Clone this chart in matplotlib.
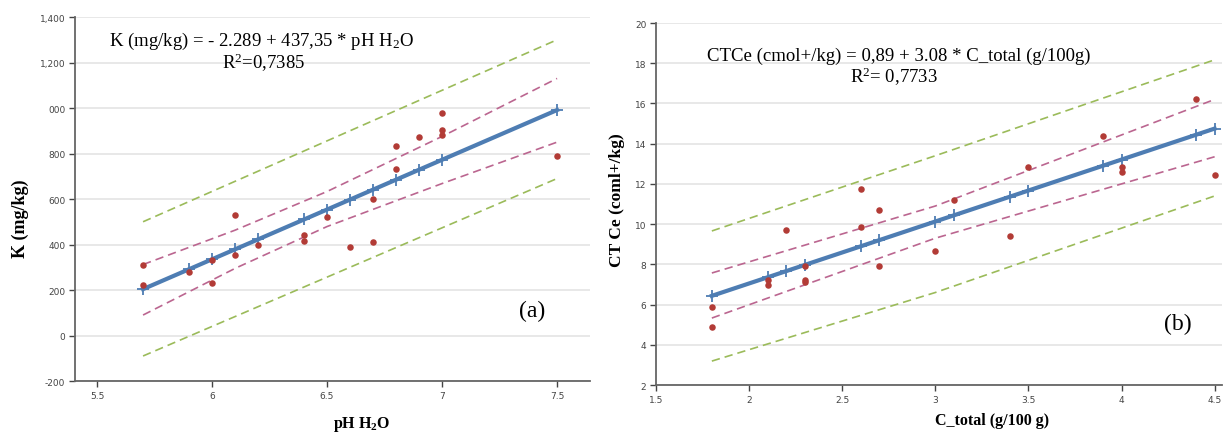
import numpy as np
import matplotlib.pyplot as plt

plt.rcParams['mathtext.fontset'] = 'custom'
plt.rcParams['mathtext.rm'] = 'Liberation Serif'
plt.rcParams['mathtext.bf'] = 'Liberation Serif:bold'
plt.rcParams['mathtext.default'] = 'regular'

# Panel (a): K vs pH H2O
ph = [5.7, 5.7, 5.9, 6.0, 6.0, 6.1, 6.1, 6.2, 6.4, 6.4, 6.5, 6.6, 6.7, 6.7,
      6.8, 6.8, 6.9, 7.0, 7.0, 7.0, 7.5]
k_obs = [310, 220, 278, 330, 230, 530, 355, 400, 440, 415, 520, 387, 602, 413,
         730, 835, 873, 980, 905, 880, 787]
a_intercept, a_slope = -2289, 437.35
a_fit_x = [5.7, 5.9, 6.0, 6.1, 6.2, 6.4, 6.5, 6.6, 6.7, 6.8, 6.9, 7.0, 7.5]
a_band_x = [5.7, 6.1, 6.5, 7.0, 7.5]
a_conf_hi = [312, 463, 633, 875, 1130]
a_conf_lo = [90, 295, 479, 668, 850]
a_pred_x = [5.7, 7.5]
a_pred_hi = [500, 1300]
a_pred_lo = [-90, 690]

# Panel (b): CTCe vs C_total
ct = [1.8, 1.8, 2.1, 2.1, 2.2, 2.3, 2.3, 2.3, 2.6, 2.6, 2.7, 2.7, 3.0, 3.1,
      3.4, 3.5, 3.9, 4.0, 4.0, 4.4, 4.5]
ctce_obs = [5.88, 4.89, 6.98, 7.2, 9.7, 7.92, 7.22, 7.1, 9.86, 11.75, 10.7, 7.92,
            8.67, 11.2, 9.4, 12.85, 14.4, 12.85, 12.6, 16.2, 12.45]
b_intercept, b_slope = 0.89, 3.08
b_fit_x = [1.8, 2.1, 2.2, 2.3, 2.6, 2.7, 3.0, 3.1, 3.4, 3.5, 3.9, 4.0, 4.4, 4.5]
b_band_x = [1.8, 3.0, 4.5]
b_conf_hi = [7.57, 10.9, 16.2]
b_conf_lo = [5.33, 9.3, 13.35]
b_pred_x = [1.8, 3.0, 4.5]
b_pred_hi = [9.66, 13.4, 18.17]
b_pred_lo = [3.19, 6.6, 11.4]

a_yticks = [-200, 0, 200, 400, 600, 800, 1000, 1200, 1400]
a_ylabels = ['-200', '0', '200', '400', '600', '800', '000', '1,200', '1,400']
a_xticks = [5.5, 6, 6.5, 7, 7.5]
b_yticks = [2, 4, 6, 8, 10, 12, 14, 16, 18, 20]
b_xticks = [1.5, 2, 2.5, 3, 3.5, 4, 4.5]

BLUE = '#4e7db3'
RED = '#b23b36'
PINK = '#bb6690'
GREEN = '#9bbb5a'
SERIF = 'Liberation Serif'


def style_axes(ax):
    for s in ['top', 'right']:
        ax.spines[s].set_visible(False)
    for s in ['left', 'bottom']:
        ax.spines[s].set_color('#666666')
        ax.spines[s].set_linewidth(1.3)
    ax.grid(axis='y', color='#e4e4e4', linewidth=1.2)
    ax.set_axisbelow(True)
    ax.tick_params(colors='#444444', labelsize=6.5, length=4, width=1,
                   direction='out', pad=3)


def draw_panel(ax, x, y, b0, b1, fit_x, band_x, c_hi, c_lo, pred_x, p_hi, p_lo):
    ax.plot(pred_x, p_hi, ls=(0, (5, 3)), color=GREEN, lw=1.2)
    ax.plot(pred_x, p_lo, ls=(0, (5, 3)), color=GREEN, lw=1.2)
    ax.plot(band_x, c_hi, ls=(0, (5, 3)), color=PINK, lw=1.2)
    ax.plot(band_x, c_lo, ls=(0, (5, 3)), color=PINK, lw=1.2)
    fx = np.array(fit_x)
    ax.plot(fx, b0 + b1 * fx, color=BLUE, lw=3, marker='+', ms=9, mew=1.3, zorder=3)
    ax.scatter(x, y, s=22, color=RED, zorder=4, linewidths=0)


fig = plt.figure(figsize=(12.25, 4.35), dpi=100)

ax1 = fig.add_axes([0.0612, 0.1218, 0.4204, 0.8368])
draw_panel(ax1, ph, k_obs, a_intercept, a_slope, a_fit_x, a_band_x,
           a_conf_hi, a_conf_lo, a_pred_x, a_pred_hi, a_pred_lo)
style_axes(ax1)
ax1.set_xlim(5.404, 7.643)
ax1.set_ylim(-200, 1400)
ax1.set_yticks(a_yticks)
ax1.set_yticklabels(a_ylabels)
ax1.set_xticks(a_xticks)
ax1.set_xticklabels(['5.5', '6', '6.5', '7', '7.5'])
fig.text(0.0163, 0.4966, 'K (mg/kg)', family=SERIF, fontsize=13, fontweight='bold',
         rotation=90, ha='center', va='center')
fig.text(0.2955, 0.025, 'pH H$_2$O', family=SERIF, fontsize=11.5, fontweight='bold',
         ha='center', va='center')
fig.text(0.089, 0.895, 'K (mg/kg) = - 2.289 + 437,35 * pH H$_2$O', family=SERIF, fontsize=13.5)
fig.text(0.181, 0.842, 'R$^2$=0,7385', family=SERIF, fontsize=13.5)
fig.text(0.434, 0.285, '(a)', family=SERIF, fontsize=17, ha='center', va='center')

ax2 = fig.add_axes([0.5355, 0.1126, 0.4621, 0.8322])
draw_panel(ax2, ct, ctce_obs, b_intercept, b_slope, b_fit_x, b_band_x,
           b_conf_hi, b_conf_lo, b_pred_x, b_pred_hi, b_pred_lo)
style_axes(ax2)
ax2.set_xlim(1.5, 4.54)
ax2.set_ylim(2, 20)
ax2.set_yticks(b_yticks)
ax2.set_xticks(b_xticks)
ax2.set_xticklabels(['1.5', '2', '2.5', '3', '3.5', '4', '4.5'])
fig.text(0.5037, 0.54, 'CT Ce (coml+/kg)', family=SERIF, fontsize=12.5, fontweight='bold',
         rotation=90, ha='center', va='center')
fig.text(0.8098, 0.032, 'C_total (g/100 g)', family=SERIF, fontsize=11.5, fontweight='bold',
         ha='center', va='center')
fig.text(0.577, 0.86, 'CTCe (cmol+/kg) = 0,89 + 3.08 * C_total (g/100g)', family=SERIF, fontsize=13.5)
fig.text(0.694, 0.808, 'R$^2$= 0,7733', family=SERIF, fontsize=13.5)
fig.text(0.9616, 0.255, '(b)', family=SERIF, fontsize=17, ha='center', va='center')

fig.savefig('out.png', dpi=100)
